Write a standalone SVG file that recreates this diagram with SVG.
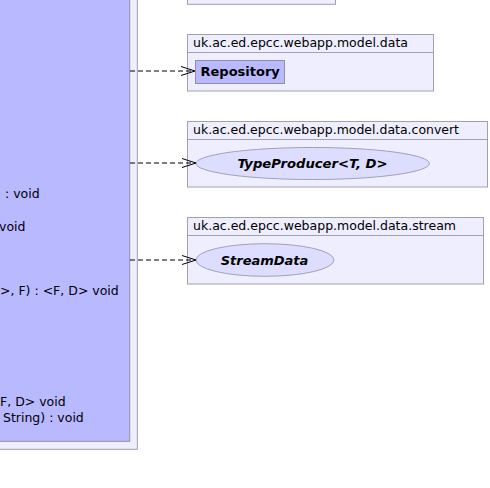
<svg xmlns="http://www.w3.org/2000/svg" width="490" height="488" viewBox="0 0 490 488">
<style>
.pkg{fill:#EEEEFF;stroke:#A0A0B0;stroke-width:1}
.cls{fill:#B9B9FF;stroke:#9090A8;stroke-width:1}
.ell{fill:#DDDDFF;stroke:#A0A0B8;stroke-width:1}
.hdr{font-family:"DejaVu Sans",sans-serif;font-size:12.5px;fill:#000}
.mem{font-family:"DejaVu Sans",sans-serif;font-size:12.5px;fill:#000}
.nm{font-family:"DejaVu Sans",sans-serif;font-size:13px;font-weight:bold;fill:#000}
.it{font-style:italic}
.dep{fill:none;stroke:#000;stroke-width:1;stroke-dasharray:5,3}
.head{fill:none;stroke:#000;stroke-width:1}
</style>
<rect width="490" height="488" fill="#FFFFFF"/>
<g id="outer-package">
<rect class="pkg" x="-10" y="-10" width="147.3" height="459.3"/>
</g>
<g id="main-class">
<rect class="cls" x="-10" y="-10" width="139.7" height="451.3"/>
<text class="mem" x="5" y="198">: void</text>
<text class="mem" x="-1" y="230.5">void</text>
<text class="mem" x="0" y="295">&gt;, F) : &lt;F, D&gt; void</text>
<text class="mem" x="0" y="406">F, D&gt; void</text>
<text class="mem" x="3" y="421.5">String) : void</text>
</g>
<g id="top-package">
<rect class="pkg" x="187.5" y="-10" width="148" height="14.3"/>
</g>
<g id="pkg-data">
<rect class="pkg" x="187.5" y="34.5" width="246" height="56.5"/>
<line x1="187.5" y1="52.5" x2="433.5" y2="52.5" stroke="#A0A0B0"/>
<text class="hdr" x="193" y="46.5" textLength="215" lengthAdjust="spacingAndGlyphs">uk.ac.ed.epcc.webapp.model.data</text>
</g>
<g id="Repository">
<rect class="cls" x="195.5" y="60.5" width="89" height="23"/>
<text class="nm" x="200.5" y="76">Repository</text>
</g>
<g id="pkg-convert">
<rect class="pkg" x="187.5" y="121.5" width="300" height="65.5"/>
<line x1="187.5" y1="139.5" x2="487.5" y2="139.5" stroke="#A0A0B0"/>
<text class="hdr" x="193" y="134" textLength="266" lengthAdjust="spacingAndGlyphs">uk.ac.ed.epcc.webapp.model.data.convert</text>
</g>
<g id="TypeProducer">
<ellipse class="ell" cx="312.7" cy="163.5" rx="116.7" ry="16"/>
<text class="nm it" x="312.5" y="167.5" text-anchor="middle" textLength="150" lengthAdjust="spacingAndGlyphs">TypeProducer&lt;T, D&gt;</text>
</g>
<g id="pkg-stream">
<rect class="pkg" x="187.5" y="217.5" width="296" height="66.5"/>
<line x1="187.5" y1="235.5" x2="483.5" y2="235.5" stroke="#A0A0B0"/>
<text class="hdr" x="193" y="230" textLength="263" lengthAdjust="spacingAndGlyphs">uk.ac.ed.epcc.webapp.model.data.stream</text>
</g>
<g id="StreamData">
<ellipse class="ell" cx="265" cy="260" rx="69" ry="16.3"/>
<text class="nm it" x="264.5" y="265" text-anchor="middle">StreamData</text>
</g>
<g id="connectors">
<line class="dep" x1="130" y1="71" x2="194" y2="71"/>
<polyline class="head" points="181,66.5 195,71 181,75.5"/>
<line class="dep" x1="130" y1="163" x2="195" y2="163"/>
<polyline class="head" points="182,158.5 196,163 182,167.5"/>
<line class="dep" x1="130" y1="260" x2="195" y2="260"/>
<polyline class="head" points="182,255.5 196,260 182,264.5"/>
</g>
</svg>
